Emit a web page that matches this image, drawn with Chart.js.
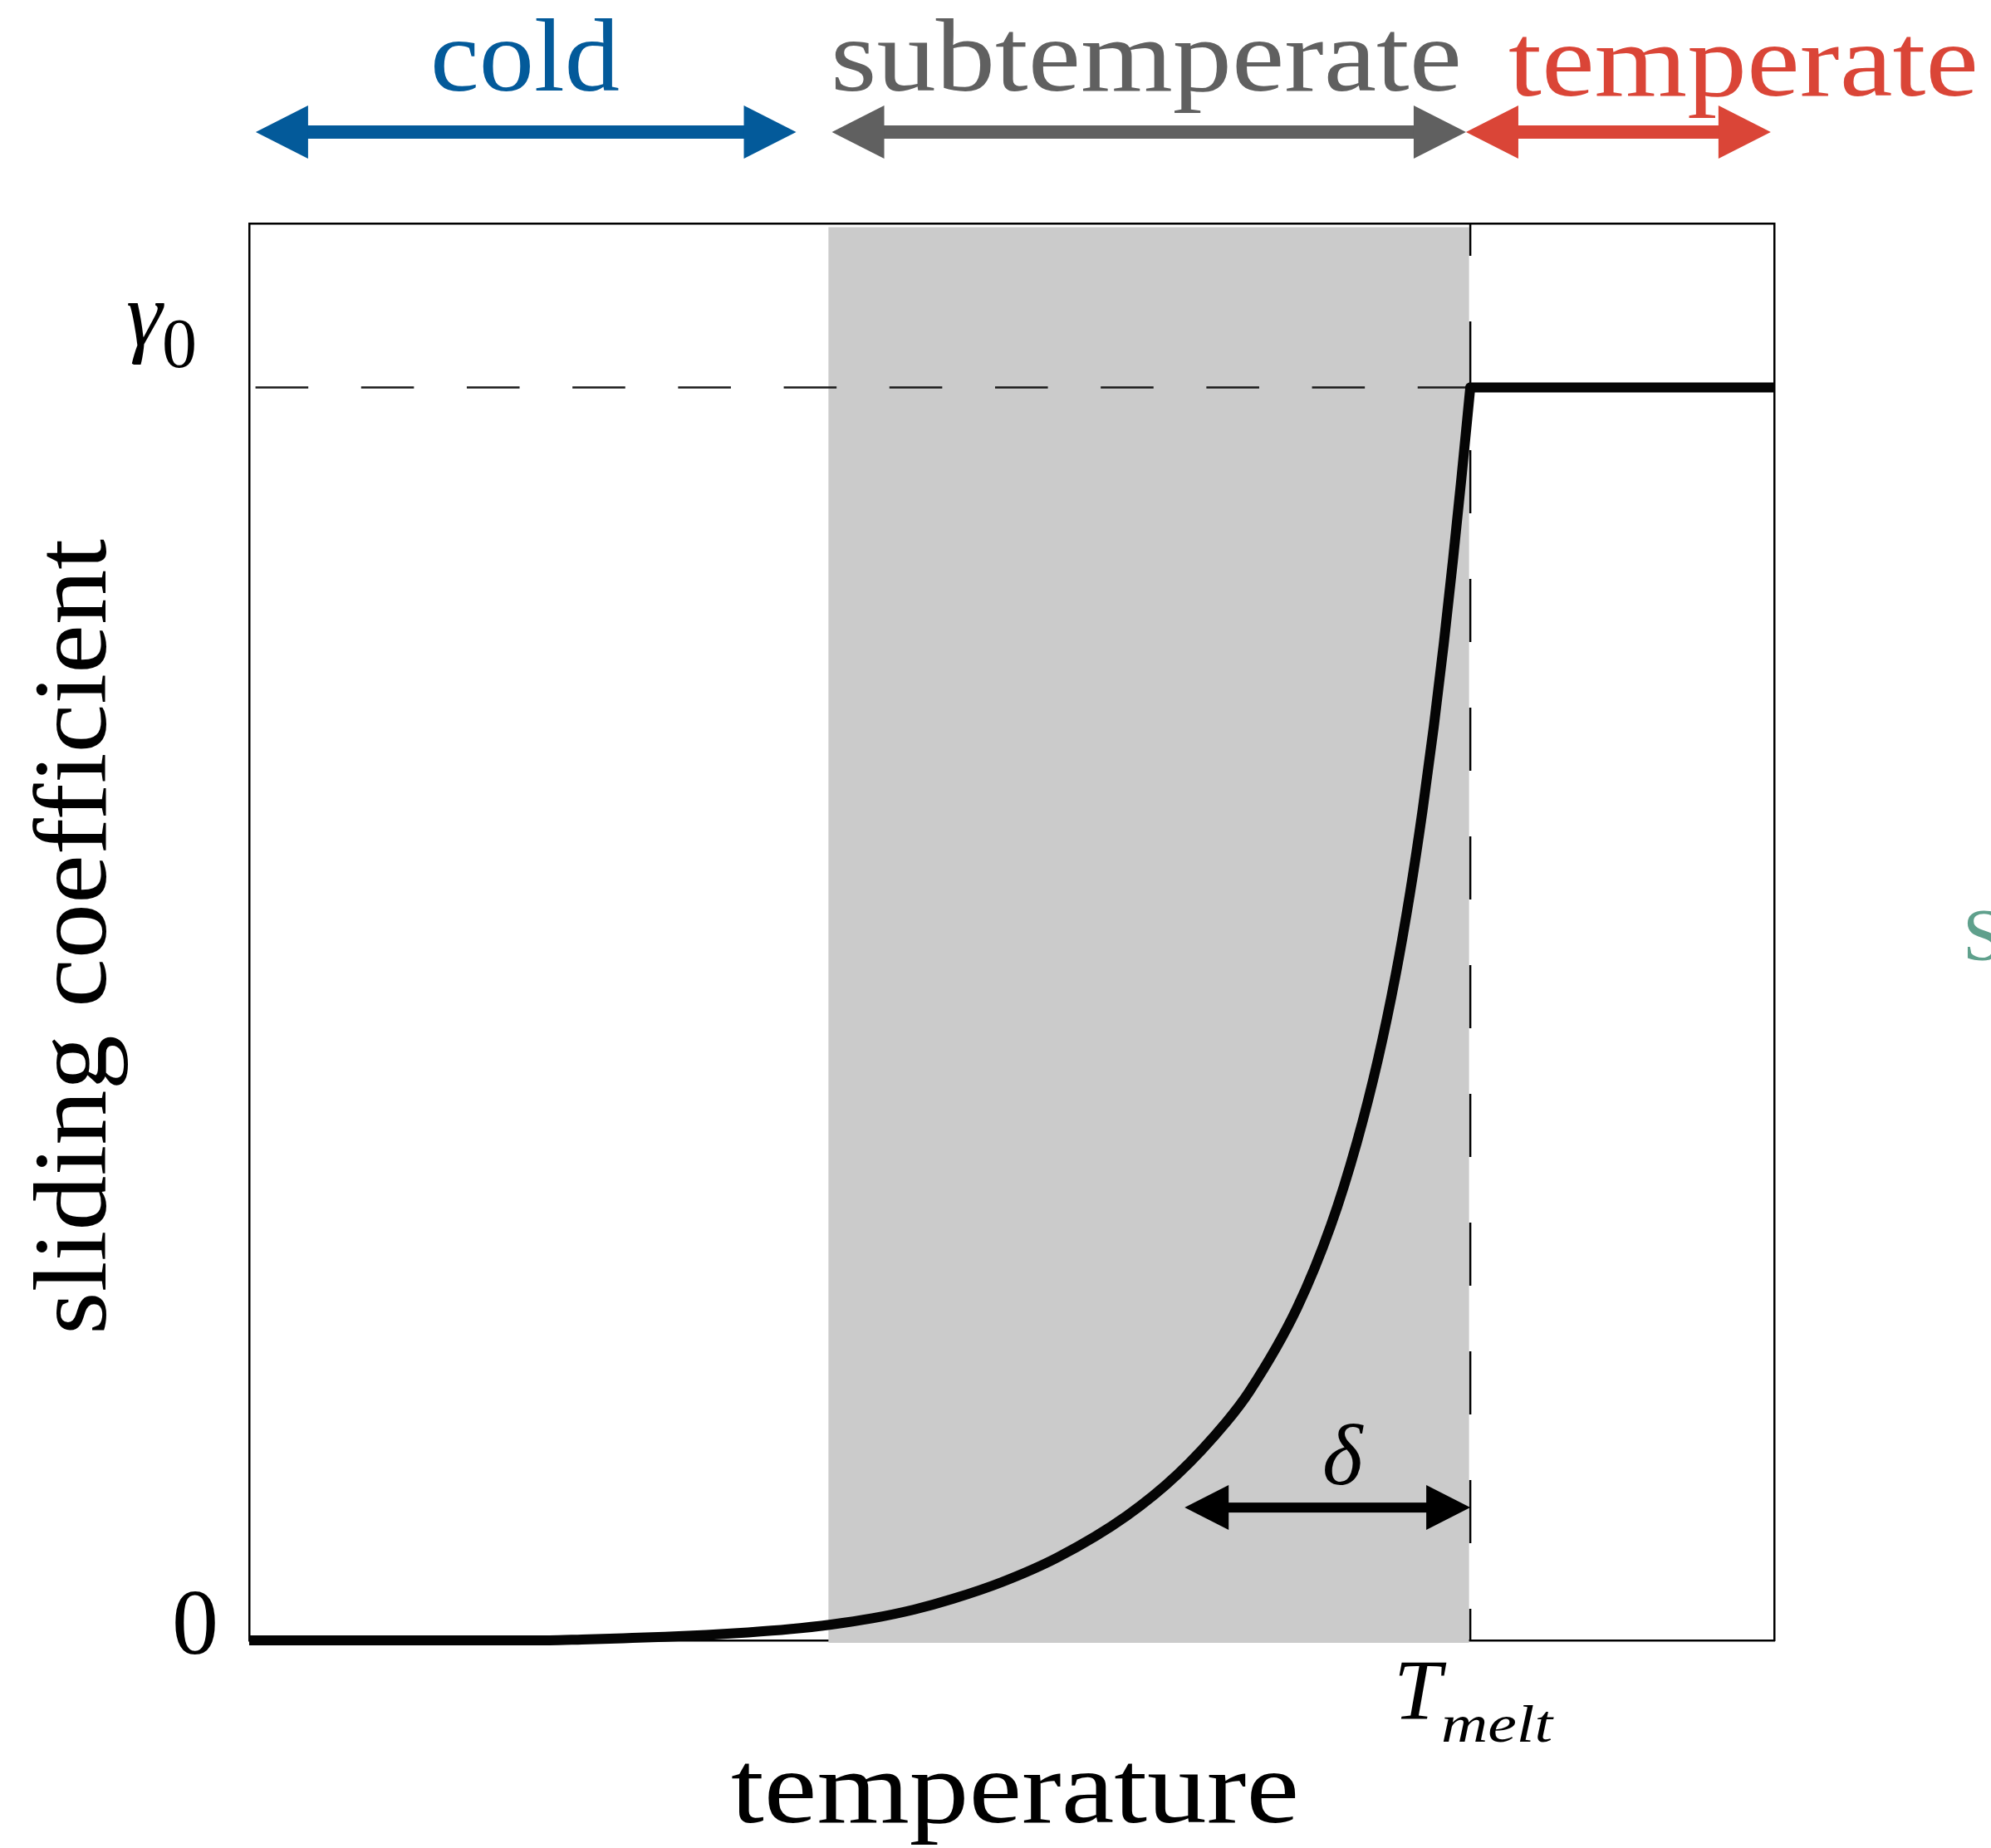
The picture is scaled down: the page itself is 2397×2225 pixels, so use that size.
<!DOCTYPE html>
<html>
<head>
<meta charset="utf-8">
<title>sliding coefficient vs temperature</title>
<script src="https://cdn.jsdelivr.net/npm/chart.js"></script>
<style>
  body { margin: 0; background: #fff; }
  canvas { display: block; }
</style>
</head>
<body>
<canvas id="slidingChart" width="2397" height="2225"></canvas>
<script>
// temperature relative to T_melt, in units of delta
const temperature = [-4.275, -3.224, -3.110, -2.965, -2.820, -2.674, -2.529, -2.384, -2.238, -2.093,
  -1.948, -1.812, -1.641, -1.444, -1.203, -1.025, -0.854, -0.773, -0.607, -0.488,
  -0.397, -0.323, -0.262, -0.211, -0.167, -0.128, -0.093, -0.061, -0.031, 0];
// sliding coefficient, as a fraction of gamma0
const slidingCoef = [0, 0, 0.0007, 0.0017, 0.0028, 0.0043, 0.0063, 0.0089, 0.0126, 0.0176,
  0.0245, 0.0331, 0.0464, 0.0663, 0.0994, 0.1325, 0.1743, 0.1988, 0.2651, 0.3313,
  0.3976, 0.4639, 0.5302, 0.5964, 0.6627, 0.7290, 0.7952, 0.8615, 0.9278, 1];
// above the melting point the coefficient stays at gamma0
const plateauT = [0, 1.064];
const plateauCoef = [1, 1];

const tRange = [-4.275, 1.064];
const coefRange = [0, 1.131];
const tMelt = 0;
const delta = 1;
const gamma0 = 1;
const deltaArrowLevel = 0.106;

const regionNames = ['cold', 'subtemperate', 'temperate'];
const regionArrows = [[-4.252, -2.360], [-2.235, -0.015], [-0.015, 1.052]];
const subtemperateBand = [-2.247, 0];

const regionColors = ['#035a9a', '#606060', '#da4537'];
const serif = '"Liberation Serif", "Times New Roman", serif';

const toPoints = (xs, ys) => xs.map((v, i) => ({ x: v, y: ys[i] }));

// draws a label, optionally stretched horizontally to a given width
const putText = (ctx, text, x, y, opt) => {
  ctx.save();
  ctx.font = `${opt.italic ? 'italic ' : ''}${opt.size}px ${serif}`;
  ctx.fillStyle = opt.color || '#000';
  ctx.textBaseline = 'alphabetic';
  const w = ctx.measureText(text).width;
  const sx = opt.width ? opt.width / w : 1;
  ctx.translate(x, y);
  if (opt.rotate) ctx.rotate(opt.rotate);
  ctx.scale(sx, 1);
  const align = opt.align || 'center';
  const off = align === 'center' ? -w / 2 : (align === 'right' ? -w : 0);
  ctx.fillText(text, off, 0);
  ctx.restore();
};

const doubleArrow = (ctx, x1, x2, y, color, shaft, headLen, headHalf) => {
  ctx.save();
  ctx.fillStyle = color;
  ctx.fillRect(x1 + headLen - 1, y - shaft / 2, x2 - x1 - 2 * headLen + 2, shaft);
  ctx.beginPath();
  ctx.moveTo(x1, y);
  ctx.lineTo(x1 + headLen, y - headHalf);
  ctx.lineTo(x1 + headLen, y + headHalf);
  ctx.closePath();
  ctx.moveTo(x2, y);
  ctx.lineTo(x2 - headLen, y - headHalf);
  ctx.lineTo(x2 - headLen, y + headHalf);
  ctx.closePath();
  ctx.fill();
  ctx.restore();
};

const bandPlugin = {
  id: 'subtemperateBand',
  beforeDatasetsDraw(chart) {
    const { ctx, chartArea, scales: { x, y } } = chart;
    const x0 = x.getPixelForValue(subtemperateBand[0]);
    const x1 = x.getPixelForValue(subtemperateBand[1]);
    const top = chartArea.top + 4.5;
    ctx.save();
    ctx.fillStyle = '#cbcbcb';
    ctx.fillRect(x0, top, x1 - x0 - 1.5, y.getPixelForValue(0) + 3 - top);
    ctx.restore();
  }
};

const labelPlugin = {
  id: 'labels',
  afterDraw(chart) {
    const { ctx, chartArea, scales: { x, y } } = chart;

    // regime arrows above the plot
    const arrowY = chartArea.top - 110;
    regionArrows.forEach((r, i) => {
      doubleArrow(ctx, x.getPixelForValue(r[0]), x.getPixelForValue(r[1]), arrowY, regionColors[i], 16, 63, 32);
    });
    putText(ctx, regionNames[0], 632, 109, { size: 124, width: 228, color: regionColors[0] });
    putText(ctx, regionNames[1], 1380, 109, { size: 124, width: 760, color: regionColors[1] });
    putText(ctx, regionNames[2], 1816, 115, { size: 124, width: 566, color: regionColors[2], align: 'left' });

    // y tick labels
    const yG = y.getPixelForValue(gamma0);
    putText(ctx, 'γ', 152, yG - 51, { size: 110, italic: true, align: 'left' });
    putText(ctx, '0', 195, yG - 25, { size: 84, align: 'left' });
    putText(ctx, '0', 263, y.getPixelForValue(0) + 16, { size: 112, align: 'right' });

    // melting point tick label
    const xM = x.getPixelForValue(tMelt);
    putText(ctx, 'T', xM - 92, 2070, { size: 103, italic: true, align: 'left' });
    putText(ctx, 'melt', xM - 35, 2097, { size: 64, italic: true, width: 134, align: 'left' });

    // delta arrow
    const yD = y.getPixelForValue(deltaArrowLevel);
    const xD0 = x.getPixelForValue(tMelt - delta);
    doubleArrow(ctx, xD0, xM, yD, '#000', 12, 53, 27);
    putText(ctx, 'δ', (xD0 + xM) / 2 + 18, yD - 28, { size: 104, italic: true });

    // axis titles
    putText(ctx, 'temperature', (chartArea.left + chartArea.right) / 2 + 4, 2194, { size: 124, width: 684 });
    putText(ctx, 'sliding coefficient', 127, (chartArea.top + chartArea.bottom) / 2 + 6,
      { size: 124, width: 958, rotate: -Math.PI / 2 });

    // start of the neighbouring panel's label
    putText(ctx, 'S', 2363, 1155, { size: 88, color: '#5fa08c', align: 'left' });
  }
};

const hiddenAxis = (position, range, axis) => ({
  type: 'linear',
  position: position,
  axis: axis,
  min: range[0],
  max: range[1],
  z: 1,
  grid: { display: false, drawTicks: false, tickLength: 0 },
  ticks: { display: false },
  border: { display: true, color: '#000', width: 2.5 },
  title: { display: false }
});

const setupChart = () => {
  const ctx = document.getElementById('slidingChart');
  const data = {
    datasets: [
      {
        label: 'gamma0 level',
        data: toPoints([-4.253, tMelt], [gamma0, gamma0]),
        borderColor: '#1a1a1a',
        borderWidth: 2.5,
        borderDash: [63.6, 63.6],
        pointRadius: 0,
        showLine: true,
        order: 4
      },
      {
        label: 'T_melt',
        data: toPoints([tMelt, tMelt], [-0.0252, 1.2]),
        borderColor: '#000',
        borderWidth: 2.5,
        borderDash: [76, 79],
        pointRadius: 0,
        showLine: true,
        order: 3
      },
      {
        label: 'sliding coefficient',
        data: toPoints(temperature, slidingCoef),
        borderColor: '#050505',
        borderWidth: 12,
        borderCapStyle: 'round',
        cubicInterpolationMode: 'monotone',
        pointRadius: 0,
        showLine: true,
        clip: { left: 0, right: 0, top: 10, bottom: 10 },
        order: 1
      },
      {
        label: 'temperate',
        data: toPoints(plateauT, plateauCoef),
        borderColor: '#050505',
        borderWidth: 12,
        borderCapStyle: 'round',
        pointRadius: 0,
        showLine: true,
        clip: { left: 0, right: 0, top: 10, bottom: 10 },
        order: 1
      }
    ]
  };
  const options = {
    responsive: false,
    devicePixelRatio: 1,
    animation: false,
    layout: { padding: { left: 300, top: 269, right: 261, bottom: 250 } },
    plugins: { legend: { display: false }, tooltip: { enabled: false } },
    scales: {
      x: hiddenAxis('bottom', tRange, 'x'),
      y: hiddenAxis('left', coefRange, 'y'),
      xTop: hiddenAxis('top', tRange, 'x'),
      yRight: hiddenAxis('right', coefRange, 'y')
    }
  };
  new Chart(ctx, {
    type: 'scatter',
    data: data,
    options: options,
    plugins: [bandPlugin, labelPlugin]
  });
};

setupChart();
</script>
</body>
</html>
